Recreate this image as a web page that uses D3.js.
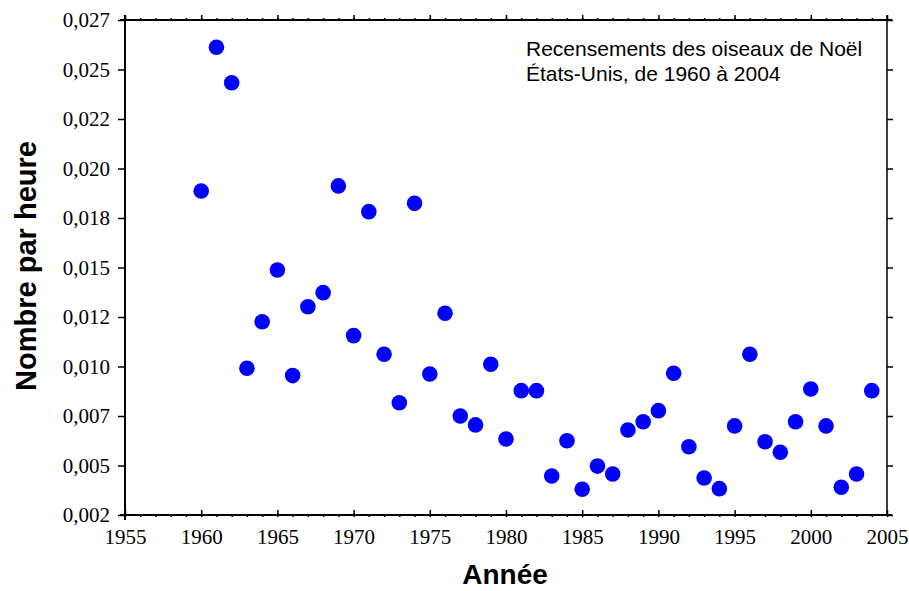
<!DOCTYPE html>
<html>
<head>
<meta charset="utf-8">
<script src="https://cdn.jsdelivr.net/npm/d3@7"></script>
<style>
  body { margin: 0; background: #fff; }
  svg { display: block; }
</style>
</head>
<body>
<div id="chart"></div>
<script>
// data
const years = [1960, 1961, 1962, 1963, 1964, 1965, 1966, 1967, 1968, 1969,
               1970, 1971, 1972, 1973, 1974, 1975, 1976, 1977, 1978, 1979,
               1980, 1981, 1982, 1983, 1984, 1985, 1986, 1987, 1988, 1989,
               1990, 1991, 1992, 1993, 1994, 1995, 1996, 1997, 1998, 1999,
               2000, 2001, 2002, 2003, 2004];
const perHour = [0.01886, 0.02612, 0.02433, 0.00991, 0.01226, 0.01487, 0.00954, 0.01302, 0.01373, 0.01912,
                 0.01156, 0.01782, 0.01062, 0.00817, 0.01824, 0.00962, 0.01269, 0.00750, 0.00705, 0.01011,
                 0.00634, 0.00878, 0.00878, 0.00447, 0.00625, 0.00380, 0.00497, 0.00457, 0.00679, 0.00721,
                 0.00777, 0.00966, 0.00595, 0.00437, 0.00383, 0.00700, 0.01062, 0.00620, 0.00567, 0.00721,
                 0.00886, 0.00700, 0.00390, 0.00457, 0.00878];

const xTicks = [1955, 1960, 1965, 1970, 1975, 1980, 1985, 1990, 1995, 2000, 2005];
const yTicks = [0.0025, 0.005, 0.0075, 0.01, 0.0125, 0.015, 0.0175, 0.02, 0.0225, 0.025, 0.0275];
const yTickLabels = ["0,002", "0,005", "0,007", "0,010", "0,012", "0,015", "0,018", "0,020", "0,022", "0,025", "0,027"];
const noteLines = ["Recensements des oiseaux de Noël", "États-Unis, de 1960 à 2004"];

const W = 909, H = 591;
const margin = {top: 20, right: 22, bottom: 76, left: 125};
const width = W - margin.left - margin.right;   // 762
const height = H - margin.top - margin.bottom;  // 495

var svg = d3.select("#chart")
    .append("svg")
    .attr("width", W)
    .attr("height", H)
    .append("g")
    .attr("transform", "translate(" + margin.left + "," + margin.top + ")");

var x = d3.scaleLinear().domain([1955, 2005]).range([0, width]);
var y = d3.scaleLinear().domain([0.0025, 0.0275]).range([height, 0]);

const tickFont = "'Liberation Serif', 'Times New Roman', serif";
const minorYears = d3.range(1955, 2006);

// bottom axis: labels, major ticks inward, minor outward
var bottomAxis = svg.append("g").attr("transform", "translate(0," + height + ")");
bottomAxis.append("g")
    .call(d3.axisBottom(x).tickValues(minorYears).tickSize(2).tickFormat(""))
    .call(g => g.select(".domain").remove());
bottomAxis.append("g")
    .call(d3.axisBottom(x).tickValues(xTicks).tickSize(-5).tickPadding(14).tickFormat(d3.format("d")))
    .call(g => g.select(".domain").remove())
    .selectAll("text")
    .attr("font-family", tickFont)
    .attr("font-size", 21)
    .attr("fill", "#000");

// top axis: ticks outward
var topAxis = svg.append("g");
topAxis.append("g")
    .call(d3.axisTop(x).tickValues(minorYears).tickSize(2).tickFormat(""))
    .call(g => g.select(".domain").remove());
topAxis.append("g")
    .call(d3.axisTop(x).tickValues(xTicks).tickSize(5).tickFormat(""))
    .call(g => g.select(".domain").remove());

// left axis
svg.append("g")
    .call(d3.axisLeft(y).tickValues(yTicks).tickSize(7).tickPadding(8)
        .tickFormat((d, i) => yTickLabels[i]))
    .call(g => g.select(".domain").remove())
    .selectAll("text")
    .attr("font-family", tickFont)
    .attr("font-size", 21)
    .attr("fill", "#000");

// right axis
svg.append("g")
    .attr("transform", "translate(" + width + ",0)")
    .call(d3.axisRight(y).tickValues(yTicks).tickSize(6).tickFormat(""))
    .call(g => g.select(".domain").remove());

svg.selectAll(".tick line").attr("stroke", "#000").attr("stroke-width", 1.5);

// frame lines
svg.append("line").attr("x1", 0).attr("x2", 0).attr("y1", -5).attr("y2", height + 5)
    .attr("stroke", "#000").attr("stroke-width", 2);
svg.append("line").attr("x1", -5).attr("x2", width + 5).attr("y1", height).attr("y2", height)
    .attr("stroke", "#000").attr("stroke-width", 2);
svg.append("line").attr("x1", -5).attr("x2", width + 5).attr("y1", 0).attr("y2", 0)
    .attr("stroke", "#000").attr("stroke-width", 2);
svg.append("line").attr("x1", width).attr("x2", width).attr("y1", -5).attr("y2", height)
    .attr("stroke", "#000").attr("stroke-width", 1.5);

// points
svg.selectAll("circle.pt")
    .data(years)
    .enter()
    .append("circle")
    .attr("class", "pt")
    .attr("cx", d => x(d))
    .attr("cy", (d, i) => y(perHour[i]))
    .attr("r", 7.8)
    .attr("fill", "#0000ff");

// note in the top right corner
svg.append("text")
    .attr("x", 401)
    .attr("y", 36)
    .attr("font-family", "'Liberation Sans', Arial, sans-serif")
    .attr("font-size", 21)
    .attr("fill", "#000")
    .selectAll("tspan")
    .data(noteLines)
    .enter()
    .append("tspan")
    .attr("x", 401)
    .attr("dy", (d, i) => i === 0 ? 0 : 25)
    .text(d => d);

// axis titles
svg.append("text")
    .attr("text-anchor", "middle")
    .attr("x", 380)
    .attr("y", height + 69)
    .attr("font-family", "'Liberation Sans', Arial, sans-serif")
    .attr("font-weight", "bold")
    .attr("font-size", 28)
    .text("Année");

svg.append("text")
    .attr("text-anchor", "middle")
    .attr("transform", "translate(-89,246) rotate(-90)")
    .attr("font-family", "'Liberation Sans', Arial, sans-serif")
    .attr("font-weight", "bold")
    .attr("font-size", 29)
    .text("Nombre par heure");
</script>
</body>
</html>
